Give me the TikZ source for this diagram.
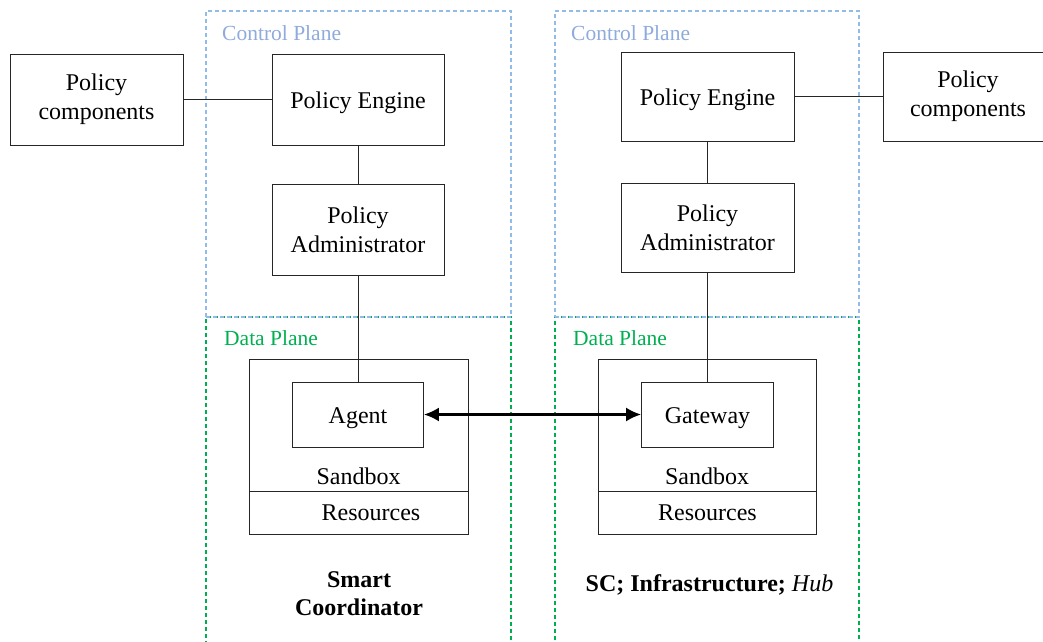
\documentclass[tikz,border=0pt]{standalone}
\usepackage{fontspec}
\setmainfont{Liberation Serif}
\usetikzlibrary{arrows.meta}
\definecolor{cpblue}{HTML}{93BBE8}
\definecolor{cptext}{HTML}{8FAADC}
\definecolor{dpgreen}{HTML}{00B050}
\definecolor{edgegray}{HTML}{262626}

\begin{document}
\begin{tikzpicture}[x=1pt,y=-1pt,
  box/.style={draw=edgegray, line width=0.9pt, align=center, inner sep=0pt,
    font=\fontsize{24}{29}\selectfont},
  oneline/.style={text height=17pt, text depth=0pt},
  txt/.style={inner sep=0pt, font=\fontsize{24}{29}\selectfont},
  link/.style={draw=edgegray, line width=0.9pt},
  biarrow/.style={draw=black, line width=2.1pt, {Latex[length=15pt,width=14pt]}-{Latex[length=15pt,width=14pt]}},
  plane/.style={dash pattern=on 4pt off 3pt, line width=1.05pt, inner sep=0pt},
  planelabel/.style={anchor=base west, inner sep=0pt, font=\fontsize{21.5}{24}\selectfont},
  caption/.style={inner sep=0pt, align=center, font=\fontsize{24}{28}\selectfont\bfseries}]
\useasboundingbox (0,0) rectangle (1043,641);
\clip (0,0) rectangle (1043,641);

% ---- plane regions (data plane first, control plane outline on top) ----
\node[plane, draw=dpgreen, minimum width=305pt, minimum height=340pt] (dpL) at (358.5,487) {};
\node[plane, draw=dpgreen, minimum width=304pt, minimum height=340pt] (dpR) at (707,487) {};
\node[plane, draw=cpblue, minimum width=305pt, minimum height=306pt] (cpL) at (358.5,164) {};
\node[plane, draw=cpblue, minimum width=304pt, minimum height=306pt] (cpR) at (707,164) {};

\node[planelabel, text=cptext] (cpLlab) at (222,40) {Control Plane};
\node[planelabel, text=cptext] (cpRlab) at (571,40) {Control Plane};
\node[planelabel, text=dpgreen] (dpLlab) at (224,345) {Data Plane};
\node[planelabel, text=dpgreen] (dpRlab) at (573,345) {Data Plane};

% ---- left side: smart coordinator ----
\node[box, minimum width=173pt, minimum height=91pt] (pcL) at (96.5,99.5) {Policy\\components};
\node[box, oneline, minimum width=172pt, minimum height=91pt] (peL) at (358,99.5) {Policy Engine};
\node[box, minimum width=172pt, minimum height=91pt] (paL) at (358,229.5) {Policy\\Administrator};
\node[box, minimum width=219pt, minimum height=132pt] (sbL) at (358.5,425) {};
\node[box, minimum width=219pt, minimum height=43pt] (resL) at (358.5,512.5) {};
\node[box, oneline, minimum width=131pt, minimum height=65pt] (agent) at (358,414.5) {Agent};
\node[txt, anchor=base] (sbLlab) at (358.5,484) {Sandbox};
\node[txt, anchor=base] (resLlab) at (371,520) {Resources};

% ---- right side: hub ----
\node[box, oneline, minimum width=173pt, minimum height=89pt] (peR) at (707.5,96.5) {Policy Engine};
\node[box, minimum width=170pt, minimum height=89pt] (pcR) at (968,96.5) {Policy\\components};
\node[box, minimum width=173pt, minimum height=89pt] (paR) at (707.5,227.5) {Policy\\Administrator};
\node[box, minimum width=218pt, minimum height=132pt] (sbR) at (707,425) {};
\node[box, minimum width=218pt, minimum height=43pt] (resR) at (707,512.5) {};
\node[box, oneline, minimum width=132pt, minimum height=65pt] (gw) at (707.5,414.5) {Gateway};
\node[txt, anchor=base] (sbRlab) at (707,484) {Sandbox};
\node[txt, anchor=base] (resRlab) at (707.5,520) {Resources};

% ---- connectors ----
\draw[link] (pcL.east) -- (peL.west);
\draw[link] (peL.south) -- (paL.north);
\draw[link] (paL.south) -- (agent.north);
\draw[link] (peR.east) -- (pcR.west);
\draw[link] (peR.south) -- (paR.north);
\draw[link] (paR.south) -- (gw.north);
\draw[biarrow] (agent.east) -- (gw.west);

% ---- captions ----
\node[caption] (capL) at (359,594) {Smart\\Coordinator};
\node[caption, anchor=base] (capR) at (709.5,591) {SC; Infrastructure; \textmd{\itshape Hub}};
\end{tikzpicture}
\end{document}
